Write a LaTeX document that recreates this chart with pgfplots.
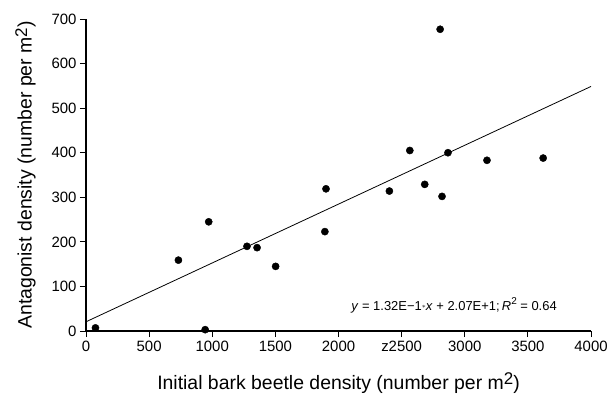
\documentclass[border=0pt]{standalone}
\usepackage{pgfplots}
\pgfplotsset{compat=1.18}
\usepackage{fontspec}
\setmainfont{Liberation Sans}
\newcommand{\sqm}{m\raisebox{0.45ex}{\fontsize{17}{17}\selectfont 2}}
\begin{document}
\begin{tikzpicture}[x=1bp,y=1bp]
\useasboundingbox (0,0) rectangle (613,397);
\begin{axis}[
  at={(86bp,66bp)}, anchor=south west,
  scale only axis, width=505bp, height=312bp,
  xmin=0, xmax=4000, ymin=0, ymax=700,
  axis lines*=left,
  axis line style={line width=1.3pt},
  every tick/.style={black, line width=0.9pt},
  tick align=outside, major tick length=6bp,
  xtick={0,500,...,4000},
  xticklabels={0,500,1000,1500,2000,z2500,3000,3500,4000},
  ytick={0,100,...,700},
  /pgf/number format/assume math mode=true,
  tick label style={font=\fontsize{15}{17}\selectfont},
  xticklabel style={yshift=-1bp},
  label style={font=\fontsize{19.5}{22}\selectfont},
  xlabel={Initial bark beetle density (number per \sqm)},
  ylabel={Antagonist density (number per \sqm)},
  xlabel style={yshift=-14bp},
  ylabel style={yshift=9bp},
  clip=false,
]
\addplot[only marks, mark=*, mark size=3.6bp, black] coordinates {
(75,7) (732,159) (972,245) (944,3) (1275,190) (1355,187) (1502,145)
(1892,223) (1901,319) (2403,314) (2565,405) (2683,329) (2805,677)
(2820,302) (2867,400) (3176,383) (3621,388)
};
\addplot[black, line width=0.8pt] coordinates {(0,20.7) (4000,548.7)};
\node[anchor=west, inner sep=0pt, font=\fontsize{13}{15}\selectfont] at (axis cs:2100,58)
  {\textit{y} = 1.32E\textminus1\raisebox{0.3ex}{\scriptsize$\ast$}\textit{x} + 2.07E+1;\,\textit{R}\raisebox{0.85ex}{\fontsize{10}{10}\selectfont 2} = 0.64};
\end{axis}
\end{tikzpicture}
\end{document}
